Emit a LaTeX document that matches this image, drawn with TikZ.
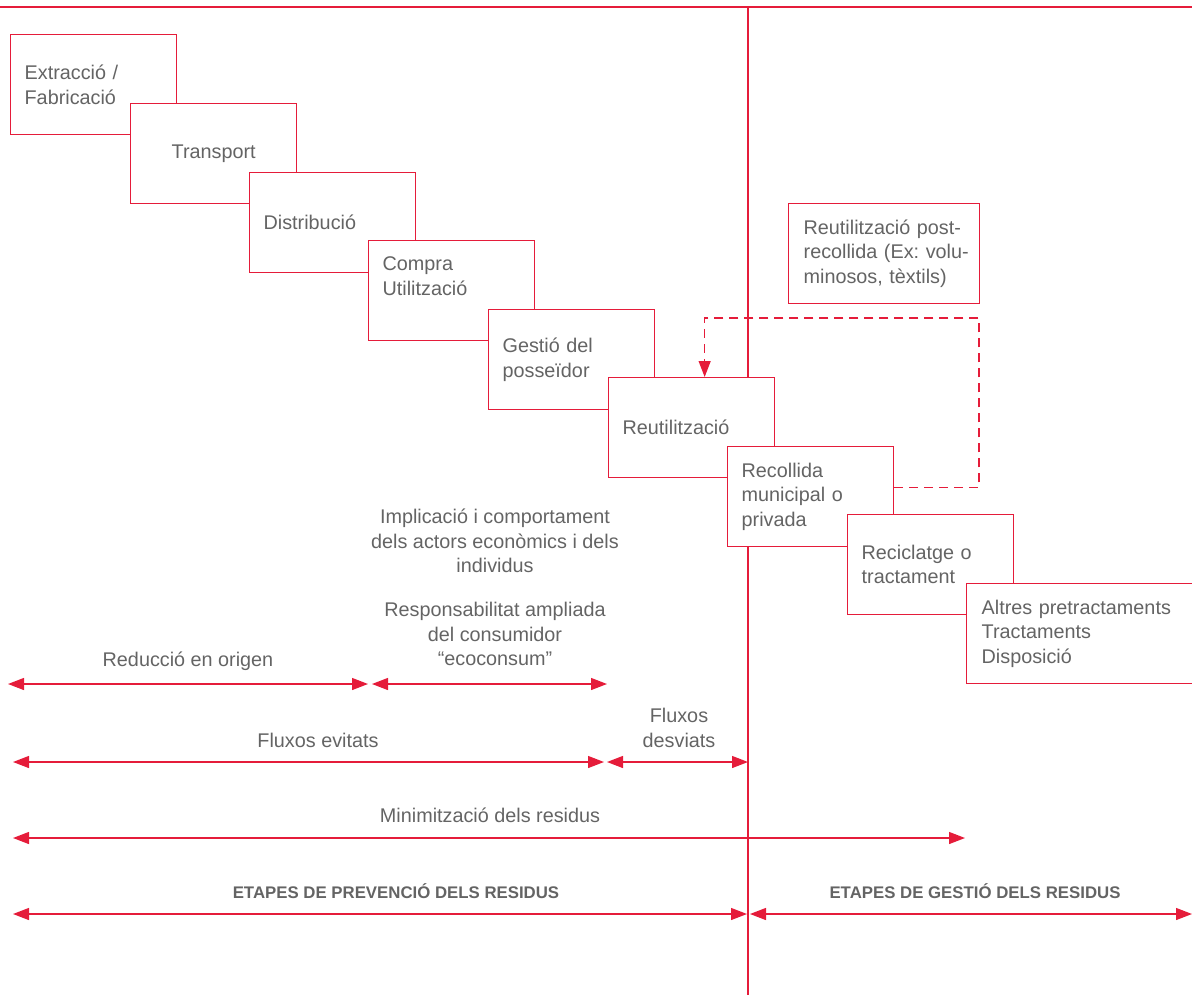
\documentclass[tikz,border=0pt]{standalone}
\usepackage{fontspec}
\setmainfont{Liberation Sans}
\usepackage{xcolor}
\usetikzlibrary{arrows.meta, positioning}
\frenchspacing
\definecolor{etred}{RGB}{229,28,58}
\definecolor{etgray}{RGB}{100,100,100}
\tikzstyle{stage}    = [rectangle, draw=etred, fill=white, line width=1.3pt, minimum width=166pt, minimum height=100pt, text width=138pt, inner xsep=14pt, align=left, anchor=north west, text=etgray, font=\fontsize{19.8}{24.5}\selectfont]
\tikzstyle{caption}  = [text=etgray, align=center, font=\fontsize{19.8}{24.5}\selectfont]
\tikzstyle{heading}  = [text=etgray, font=\bfseries\fontsize{16.8}{20}\selectfont]
\tikzstyle{divider}  = [draw=etred, line width=1.3pt]
\tikzstyle{dimline}  = [draw=etred, line width=1.3pt, {Triangle[length=16pt,width=12pt,fill=etred]}-{Triangle[length=16pt,width=12pt,fill=etred]}]
\tikzstyle{backflow} = [draw=etred, line width=1.3pt, dash pattern=on 9pt off 6pt, -{Triangle[length=16pt,width=12pt,fill=etred]}]

\begin{document}
\begin{tikzpicture}[x=1pt, y=-1pt]
    \useasboundingbox (0,0) rectangle (1192,996);

    % frame and divider
    \coordinate (topL) at (0,7);
    \coordinate (topR) at (1192,7);
    \coordinate (divT) at (748,7);
    \coordinate (divB) at (748,995);
    \draw [divider] (topL) -- (topR);
    \draw [divider] (divT) -- (divB);

    % stages
    \node (ext)  at (10,34)   [stage] {Extracció /\\Fabricació};
    \node (tra)  at (130,103) [stage, align=center] {Transport};
    \node (dis)  at (249,172) [stage] {Distribució};
    \node (com)  at (368,240) [stage, text depth=54pt] {Compra\\Utilització};
    \node (ges)  at (488,309) [stage] {Gestió del\\posseïdor};
    \node (reu)  at (608,377) [stage] {Reutilització};
    \node (rec)  at (727,446) [stage] {Recollida\\municipal o\\privada};
    \node (rcl)  at (847,514) [stage] {Reciclatge o\\tractament};
    \node (alt)  at (966,583) [stage, text width=200pt, inner xsep=15pt] {Altres pretractaments\\Tractaments\\Disposició};
    \node (post) at (788,203) [stage, text width=161pt, inner xsep=15pt] {\mbox{Reutilització post-}\\\mbox{recollida (Ex: volu-}\\minosos, tèxtils)};

    % return loop
    \coordinate (bend) at (979,318);
    \draw [backflow] ([yshift=9pt]rec.east) -| (bend) -| ([xshift=13pt]reu.north);

    % captions
    \node (imp) at (495,541) [caption] {Implicació i comportament\\dels actors econòmics i dels\\individus};
    \node (res) at (495,634) [caption] {Responsabilitat ampliada\\del consumidor\\“ecoconsum”};
    \node (red) at (188,661) [caption] {Reducció en origen};
    \node (evi) at (318,740) [caption] {Fluxos evitats};
    \node (des) at (679,728) [caption] {Fluxos\\desviats};
    \node (min) at (490,815) [caption] {Minimització dels residus};
    \node (pre) at (396,891) [heading] {ETAPES DE PREVENCIÓ DELS RESIDUS};
    \node (gst) at (975,891) [heading] {ETAPES DE GESTIÓ DELS RESIDUS};

    % spans
    \coordinate (redA) at (8,684);   \coordinate (redB) at (368,684);
    \coordinate (resA) at (372,684); \coordinate (resB) at (607,684);
    \coordinate (eviA) at (13,762);  \coordinate (eviB) at (604,762);
    \coordinate (desA) at (607,762); \coordinate (desB) at (748,762);
    \coordinate (minA) at (13,838);  \coordinate (minB) at (965,838);
    \coordinate (preA) at (13,914);  \coordinate (preB) at (747,914);
    \coordinate (gstA) at (750,914); \coordinate (gstB) at (1192,914);

    \draw [dimline] (redA) -- (redB);
    \draw [dimline] (resA) -- (resB);
    \draw [dimline] (eviA) -- (eviB);
    \draw [dimline] (desA) -- (desB);
    \draw [dimline] (minA) -- (minB);
    \draw [dimline] (preA) -- (preB);
    \draw [dimline] (gstA) -- (gstB);
\end{tikzpicture}
\end{document}
